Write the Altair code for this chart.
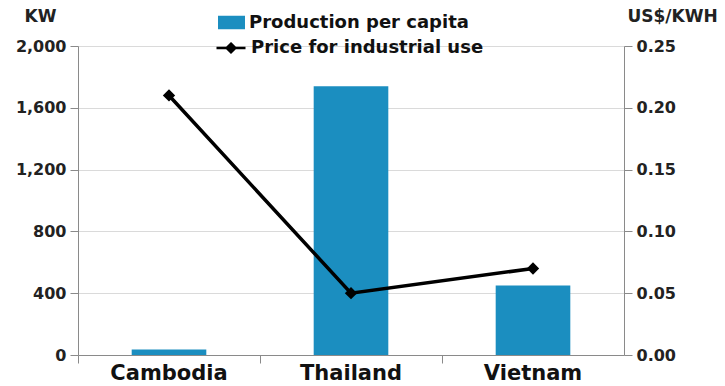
import altair as alt
import pandas as pd

countries = ["Cambodia", "Thailand", "Vietnam"]
production_kw = [35, 1740, 450]
price_usd_kwh = [0.21, 0.05, 0.07]
bar_series = "Production per capita"
line_series = "Price for industrial use"
left_ticks = [0, 400, 800, 1200, 1600, 2000]
right_ticks = [0.0, 0.05, 0.10, 0.15, 0.20, 0.25]

df = pd.DataFrame({
    "country": countries,
    "production": production_kw,
    "price": price_usd_kwh,
    "bar_series": [bar_series] * len(countries),
    "line_series": [line_series] * len(countries),
})

FONT = "DejaVu Sans"
BLUE = "#1B8EC0"
AX = "#8a8a8a"

x_enc = alt.X(
    "country:N", sort=countries,
    scale=alt.Scale(paddingInner=0, paddingOuter=0),
    axis=alt.Axis(title=None, labelAngle=0, labelFont=FONT, labelFontWeight="bold",
                  labelFontSize=21, labelColor="#111", bandPosition=0, tickSize=8,
                  tickColor=AX, domainColor=AX, labelPadding=-1, grid=False),
)

bars = alt.Chart(df).mark_bar(width=alt.RelativeBandSize(0.41)).encode(
    x=x_enc,
    y=alt.Y("production:Q", scale=alt.Scale(domain=[0, 2000], nice=False),
            axis=alt.Axis(values=left_ticks, format=",.0f", title="KW", titleAngle=0,
                          titleX=-38, titleY=-30, titleAlign="center", titleBaseline="middle",
                          titleFont=FONT, titleFontSize=17, titleFontWeight="bold", titleColor="#222",
                          labelFont=FONT, labelFontSize=16, labelFontWeight="bold", labelColor="#222",
                          tickSize=8, tickColor=AX, domainColor=AX, labelPadding=4,
                          grid=True, gridColor="#dadada")),
    color=alt.Color("bar_series:N", scale=alt.Scale(range=[BLUE]),
                    legend=alt.Legend(title=None, orient="none", legendX=140, legendY=-37,
                                      padding=0, symbolType="M-1,-0.5H1V0.5H-1Z", symbolSize=729,
                                      symbolStrokeWidth=0, labelOffset=4, labelLimit=400,
                                      labelFont=FONT, labelFontSize=18, labelFontWeight="bold",
                                      labelColor="#111")),
)

line = alt.Chart(df).mark_line(
    strokeWidth=3.5,
    point=alt.OverlayMarkDef(shape="diamond", filled=True, size=90, fill="#000000",
                             color="#000000", opacity=1),
).encode(
    x=alt.X("country:N", sort=countries),
    y=alt.Y("price:Q", scale=alt.Scale(domain=[0, 0.25], nice=False),
            axis=alt.Axis(orient="right", values=right_ticks, format=".2f", title="US$/KWH",
                          titleAngle=0, titleX=48, titleY=-30, titleAlign="center", titleBaseline="middle",
                          titleFont=FONT, titleFontSize=17, titleFontWeight="bold", titleColor="#222",
                          labelFont=FONT, labelFontSize=16, labelFontWeight="bold", labelColor="#222",
                          tickSize=8, tickColor=AX, domainColor=AX, labelPadding=4, grid=False)),
    stroke=alt.Stroke("line_series:N", scale=alt.Scale(range=["#000000"]),
                      legend=alt.Legend(title=None, orient="none", legendX=137, legendY=-14,
                                        padding=0,
                                        symbolType="M-1,0H1M0,-0.3L0.3,0L0,0.3L-0.3,0Z",
                                        symbolSize=841, symbolStrokeWidth=2.5,
                                        symbolFillColor="#000000", labelOffset=4, labelLimit=400,
                                        labelFont=FONT, labelFontSize=18, labelFontWeight="bold",
                                        labelColor="#111")),
)

chart = alt.layer(bars, line).resolve_scale(
    y="independent", color="independent"
).properties(
    width=546, height=309,
    autosize=alt.AutoSizeParams(type="none"),
    padding={"left": 78, "top": 46, "right": 101, "bottom": 31},
).configure_view(stroke=None).configure(background="white")

chart.save("out.html", embed_options={"renderer": "svg", "actions": False})
